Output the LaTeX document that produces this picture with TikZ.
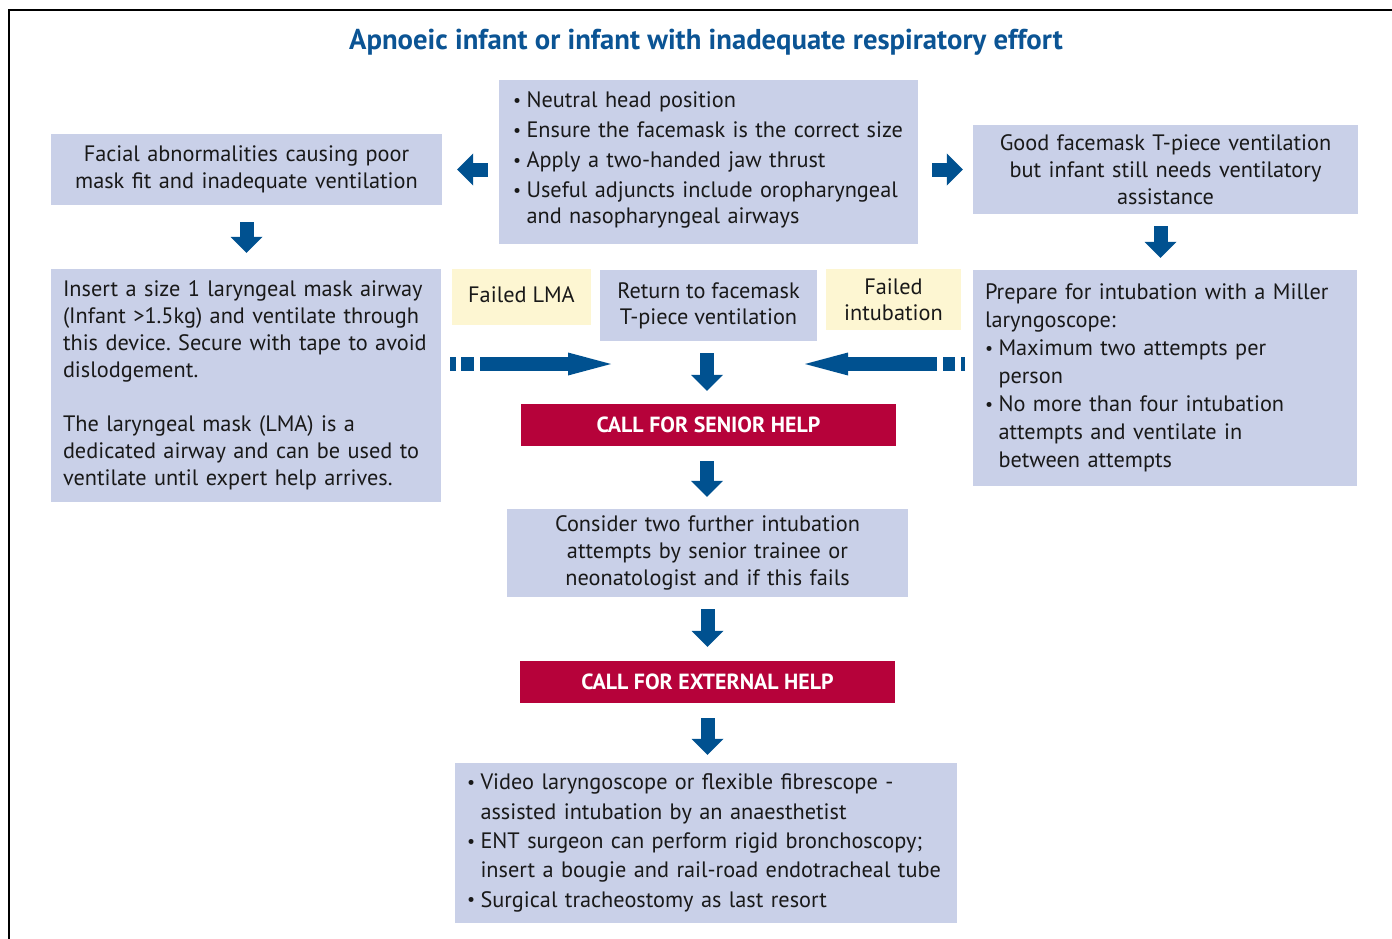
\documentclass[tikz,border=0pt]{standalone}
\usepackage{fontspec}
\setmainfont{PT Sans}
\usetikzlibrary{arrows.meta,calc}
\definecolor{boxblue}{RGB}{201,208,232}
\definecolor{boxyellow}{RGB}{253,246,210}
\definecolor{arrowblue}{RGB}{0,81,144}
\definecolor{crimson}{RGB}{182,2,58}
\definecolor{titleblue}{RGB}{11,84,148}
\definecolor{txt}{RGB}{25,25,25}
\frenchspacing
\newcommand{\bul}{\makebox[13.5pt][l]{\raisebox{0.06em}{\scalebox{0.8}{\textbullet}}}}
\newcommand{\ind}{\hspace*{13.5pt}}
\tikzset{
  bx/.style={fill=boxblue, text=txt, inner ysep=0pt, inner xsep=12pt, font=\fontsize{22.3}{27}\selectfont},
  ybx/.style={fill=boxyellow, text=txt, inner sep=0pt, align=center, font=\fontsize{22.3}{26}\selectfont},
  redbx/.style={fill=crimson, text=white, inner sep=0pt, minimum width=375pt, minimum height=42pt, font=\fontsize{21.9}{24}\selectfont\bfseries},
  blk/.style={draw=arrowblue, line width=14pt, -{Triangle[length=16pt,width=32pt,line width=0pt]}},
  lng/.style={draw=arrowblue, line width=14pt, -{Triangle[length=43pt,width=23pt,line width=0pt]}},
}
\begin{document}
\begin{tikzpicture}[x=1pt,y=-1pt]
\useasboundingbox (0,0) rectangle (1392,939);
\draw[line width=2pt, black] (9,939) -- (9,10) -- (1392,10);
\node[font=\fontsize{28.7}{32}\selectfont\bfseries, text=titleblue, inner sep=0pt] (title) at (706,42) {Apnoeic infant or infant with inadequate respiratory effort};
% top centre
\node[fill=boxblue, inner sep=0pt, minimum width=419pt, minimum height=164pt] (T) at (708.5,162) {};
\node[text=txt, anchor=base west, inner xsep=14pt, inner ysep=0pt, text width=391pt, align=left, font=\fontsize{22.3}{26}\selectfont] (Tt) at ($(T.north west)+(0,28)$)
{\bul Neutral head position\\[4pt]\bul Ensure the facemask is the correct size\\[4pt]\bul Apply a two-handed jaw thrust\\[4pt]\bul Useful adjuncts include oropharyngeal\\ \ind and nasopharyngeal airways};
\node[bx, text width=367pt, minimum height=71pt, align=center] (L1) at (246.5,169.5)
{Facial abnormalities causing poor\\ mask fit and inadequate ventilation};
\node[bx, text width=361pt, minimum height=89pt, align=center] (R1) at (1165.5,169.5)
{Good facemask T-piece ventilation\\ but infant still needs ventilatory\\ assistance};
\node[bx, text width=366pt, minimum height=233pt, align=left] (L2) at (246,385.5)
{\mbox{Insert a size 1 laryngeal mask airway}\\ \mbox{(Infant >1.5kg) and ventilate through}\\ \mbox{this device. Secure with tape to avoid}\\ dislodgement.\\[27pt] The laryngeal mask (LMA) is a\\ dedicated airway and can be used to\\ ventilate until expert help arrives.};
\node[ybx, minimum width=139pt, minimum height=56pt] (FL) at (521.5,297) {\raisebox{5pt}{Failed LMA}};
\node[bx, inner sep=0pt, minimum width=217pt, minimum height=71pt, align=center, font=\fontsize{22.3}{26}\selectfont] (RT) at (708.5,305.5) {Return to facemask\\ T-piece ventilation};
\node[ybx, minimum width=135pt, minimum height=61pt] (FI) at (893.5,299.5) {Failed\\ intubation};
\node[bx, text width=360pt, minimum height=216pt, align=left, font=\fontsize{22.3}{28}\selectfont] (R2) at (1165,378)
{Prepare for intubation with a Miller\\ laryngoscope:\\ \bul Maximum two attempts per\\ \ind person\\ \bul No more than four intubation\\ \ind attempts and ventilate in\\ \ind between attempts};
\node[redbx] (SH) at (708.5,425) {CALL FOR SENIOR HELP};
\node[bx, text width=377pt, minimum height=88pt, align=center] (CO) at (707.5,553)
{\rule{0pt}{3pt}Consider two further intubation\\ attempts by senior trainee or\\ neonatologist and if this fails};
\node[redbx] (EH) at (707.5,682) {CALL FOR EXTERNAL HELP};
\node[bx, text width=478pt, minimum height=160pt, align=left, font=\fontsize{22.3}{29.3}\selectfont] (BT) at (706,843)
{\bul Video laryngoscope or flexible fibrescope -\\ \ind assisted intubation by an anaesthetist\\ \bul ENT surgeon can perform rigid bronchoscopy;\\ \ind insert a bougie and rail-road endotracheal tube\\ \bul Surgical tracheostomy as last resort};
% arrows
\draw[blk, shorten <=11pt, shorten >=15pt] (T.west |- L1) -- (L1.east);
\draw[blk, shorten <=14pt, shorten >=10pt] (T.east |- R1) -- (R1.west);
\draw[blk, shorten <=17pt, shorten >=16pt] (L1.south) -- (L1.south |- L2.north);
\draw[blk, shorten <=12pt, shorten >=12pt] ([xshift=-5pt]R1.south) -- ([xshift=-5pt]R1.south |- R2.north);
\draw[blk, shorten <=12pt, shorten >=13pt] ([xshift=-1.5pt]RT.south) -- ([xshift=-1.5pt]RT.south |- SH.north);
\draw[blk, shorten <=15pt, shorten >=12pt] ([xshift=-1.5pt]SH.south) -- ([xshift=-1.5pt]SH.south |- CO.north);
\draw[blk, shorten <=12pt, shorten >=14pt] (CO.south) -- (CO.south |- EH.north);
\draw[blk, shorten <=15pt, shorten >=8pt] (EH.south) -- (EH.south |- BT.north);
\coordinate (ls) at (450,364);
\coordinate (le) at (611,364);
\coordinate (rs) at (965,364);
\coordinate (re) at (805,364);
\draw[lng, dash pattern=on 6pt off 5pt on 13pt off 6pt on 400pt off 0pt] (ls) -- (le);
\draw[lng, dash pattern=on 4pt off 6pt on 12pt off 6pt on 400pt off 0pt] (rs) -- (re);
\end{tikzpicture}
\end{document}
